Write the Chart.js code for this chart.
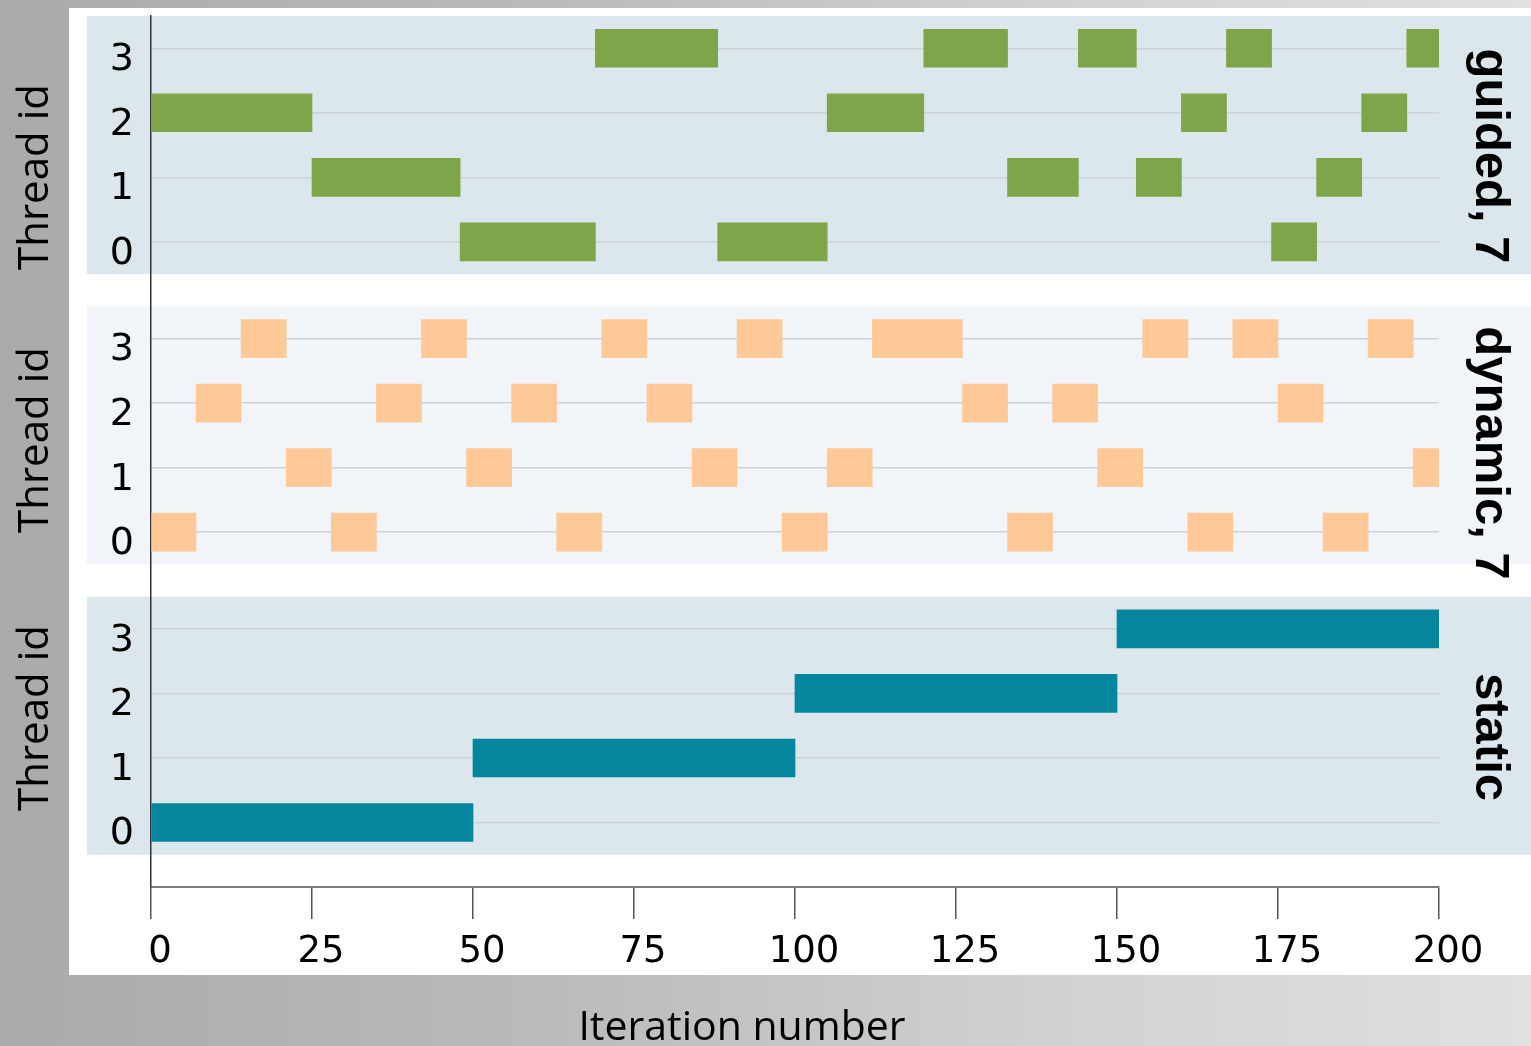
<!DOCTYPE html>
<html>
<head>
<meta charset="utf-8">
<script src="https://cdn.jsdelivr.net/npm/chart.js@4.4.1/dist/chart.umd.min.js"></script>
<style>
html, body { margin: 0; padding: 0; width: 1531px; height: 1046px; overflow: hidden; }
body { position: relative; background: linear-gradient(to right, #aaaaaa 0%, #bababa 35%, #d2d2d2 70%, #e0e0e0 100%); }
#sheet { position: absolute; left: 69px; top: 8px; width: 1462px; height: 967px; background: #fff; }
#chart_schedule { position: absolute; left: 0; top: 0; }
</style>
</head>
<body>
<div id="sheet"></div>
<canvas id="chart_schedule" width="1531" height="1046"></canvas>
<script>
// chunks of iterations handed to each thread, one set per schedule kind
var guidedStart = [0, 25, 48, 69, 88, 105, 120, 133, 144, 153, 160, 167, 174, 181, 188, 195];
var guidedEnd = [25, 48, 69, 88, 105, 120, 133, 144, 153, 160, 167, 174, 181, 188, 195, 200];
var guidedThread = [2, 1, 0, 3, 0, 2, 3, 1, 3, 1, 2, 3, 0, 1, 2, 3];

var dynamicStart = [0, 7, 14, 21, 28, 35, 42, 49, 56, 63, 70, 77, 84, 91, 98, 105, 112, 119, 126, 133, 140, 147, 154, 161, 168, 175, 182, 189, 196];
var dynamicEnd = [7, 14, 21, 28, 35, 42, 49, 56, 63, 70, 77, 84, 91, 98, 105, 112, 119, 126, 133, 140, 147, 154, 161, 168, 175, 182, 189, 196, 200];
var dynamicThread = [0, 2, 3, 1, 0, 2, 3, 1, 2, 0, 3, 2, 1, 3, 0, 1, 3, 3, 2, 0, 2, 1, 3, 0, 3, 2, 0, 3, 1];

var staticStart = [0, 50, 100, 150];
var staticEnd = [50, 100, 150, 200];
var staticThread = [0, 1, 2, 3];

var threadLabels = ['0', '1', '2', '3'];
var xTicks = [0, 25, 50, 75, 100, 125, 150, 175, 200];
var panelNames = ['static', 'dynamic, 7', 'guided, 7'];

// layout: panels stacked on one y scale, bottom to top
var panelBase = [0, 4.5, 9];
var panelFill = ['#dce6ed', '#f1f5f9', '#dce6ed'];

function chunks(start, end, thread, base) {
    return start.map(function (s, i) {
        return { x: [s, end[i]], y: base + thread[i] };
    });
}

var chart_schedule = new Chart(document.getElementById('chart_schedule'), {
    type: 'bar',
    data: {
        datasets: [
            {
                label: 'static',
                data: chunks(staticStart, staticEnd, staticThread, panelBase[0]),
                backgroundColor: '#05869f'
            },
            {
                label: 'dynamic, 7',
                data: chunks(dynamicStart, dynamicEnd, dynamicThread, panelBase[1]),
                backgroundColor: '#fec997'
            },
            {
                label: 'guided, 7',
                data: chunks(guidedStart, guidedEnd, guidedThread, panelBase[2]),
                backgroundColor: '#7ea54a'
            }
        ]
    },
    options: {
        animation: false,
        responsive: false,
        indexAxis: 'y',
        grouped: false,
        barThickness: 38,
        borderWidth: 0,
        layout: {
            padding: { left: 0, top: 16, right: 92, bottom: 0 }
        },
        plugins: {
            legend: { display: false },
            tooltip: { enabled: false }
        },
        scales: {
            x: {
                type: 'linear',
                min: 0,
                max: 200,
                afterBuildTicks: function (scale) {
                    scale.ticks = xTicks.map(function (v) { return { value: v }; });
                },
                afterFit: function (scale) {
                    scale.height = 159;
                    scale.paddingLeft = 0;
                    scale.paddingRight = 0;
                },
                grid: {
                    drawOnChartArea: false,
                    drawTicks: true,
                    tickLength: 32,
                    color: '#555',
                    lineWidth: 1.5
                },
                border: { display: true, color: '#7a7a7a', width: 2 },
                ticks: {
                    color: '#000',
                    padding: 11,
                    labelOffset: 9,
                    maxRotation: 0,
                    font: { family: 'DejaVu Sans', size: 37 }
                }
            },
            y: {
                type: 'linear',
                min: -1,
                max: 12.5,
                offset: false,
                afterBuildTicks: function (scale) {
                    var t = [];
                    panelBase.forEach(function (b) {
                        threadLabels.forEach(function (l, i) { t.push({ value: b + i }); });
                    });
                    scale.ticks = t;
                },
                afterFit: function (scale) {
                    scale.width = 151;
                    scale.paddingTop = 0;
                    scale.paddingBottom = 0;
                },
                grid: {
                    offset: false,
                    drawTicks: false,
                    color: '#cdd1da',
                    lineWidth: 1.5
                },
                border: { display: true, color: '#333', width: 1.5 },
                ticks: {
                    color: '#000',
                    padding: 17,
                    labelOffset: 12,
                    font: { family: 'DejaVu Sans', size: 38 },
                    callback: function (value) {
                        return threadLabels[Math.round(value % 4.5)];
                    }
                }
            }
        }
    },
    plugins: [{
        id: 'panels',
        beforeDraw: function (chart) {
            var ctx = chart.ctx;
            var y = chart.scales.y;
            ctx.save();
            panelBase.forEach(function (b, i) {
                var top = y.getPixelForValue(b + 3.5);
                var bottom = y.getPixelForValue(b - 0.5);
                ctx.fillStyle = panelFill[i];
                ctx.fillRect(87, top, chart.width - 87, bottom - top);
            });
            ctx.restore();
        },
        afterDraw: function (chart) {
            var ctx = chart.ctx;
            var threadCenters = [718, 440, 177];
            var nameCenters = [737, 453, 156];
            ctx.save();
            ctx.fillStyle = '#000';
            ctx.textAlign = 'center';
            ctx.textBaseline = 'alphabetic';
            panelNames.forEach(function (name, i) {
                ctx.save();
                ctx.translate(48, threadCenters[i]);
                ctx.rotate(-Math.PI / 2);
                ctx.font = '42px "Open Sans"';
                ctx.fillText('Thread id', 0, 0);
                ctx.restore();

                ctx.save();
                ctx.translate(1476, nameCenters[i]);
                ctx.rotate(Math.PI / 2);
                ctx.font = 'bold 49px "Liberation Sans"';
                ctx.fillText(name, 0, 0);
                ctx.restore();
            });
            ctx.font = '41px "Open Sans"';
            ctx.fillText('Iteration number', 742, 1040);
            ctx.restore();
        }
    }]
});
</script>
</body>
</html>
